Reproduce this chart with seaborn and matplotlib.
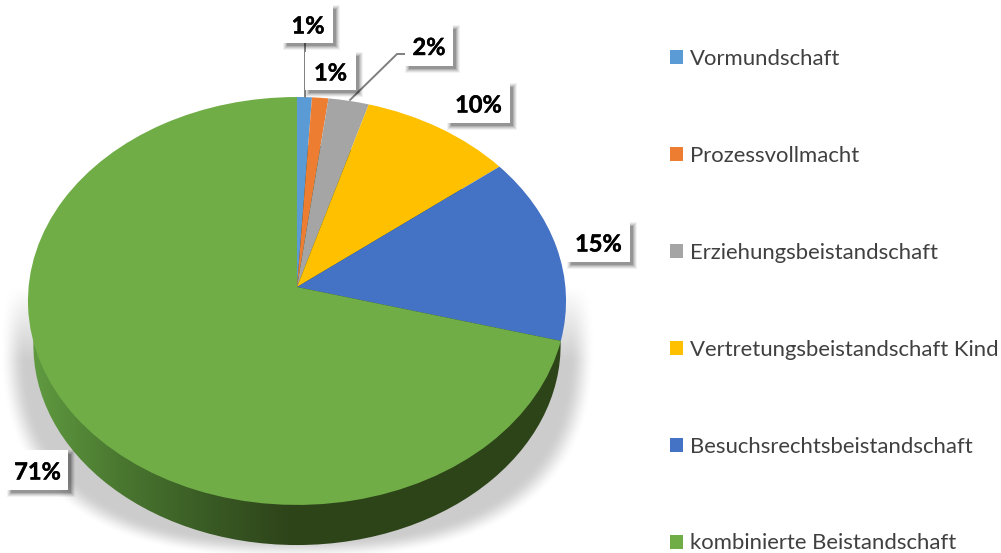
import numpy as np
import matplotlib
matplotlib.use('Agg')
import matplotlib.pyplot as plt
import matplotlib.patheffects as pe
from matplotlib.patches import Circle, Rectangle
from matplotlib.transforms import Transform
from matplotlib.colors import LinearSegmentedColormap
import seaborn as sns

categories = ['Vormundschaft', 'Prozessvollmacht', 'Erziehungsbeistandschaft',
              'Vertretungsbeistandschaft Kind', 'Besuchsrechtsbeistandschaft',
              'kombinierte Beistandschaft']
values = [0.95, 1.05, 2.6, 9.8, 14.8, 70.8]
value_labels = ['1%', '1%', '2%', '10%', '15%', '71%']
colors = ['#5B9BD5', '#ED7D31', '#A5A5A5', '#FFC000', '#4472C4', '#70AD47']

sns.set_theme(style='white')
plt.rcParams['font.family'] = ['Lato', 'DejaVu Sans']


# tilted disc: unit circle to pixels, the far side gets a bit smaller
class Tilt(Transform):
    input_dims = 2
    output_dims = 2
    is_separable = False
    has_inverse = False

    def __init__(self, cx, cy, a, b, k=0.0685):
        super().__init__()
        self.cx, self.cy, self.a, self.b, self.k = cx, cy, a, b, k

    def transform_non_affine(self, pts):
        pts = np.asarray(pts)
        w = 1 + self.k * pts[:, 1]
        return np.column_stack([self.cx + self.a * pts[:, 0] / w,
                                self.cy - self.b * pts[:, 1] / w])


fig = plt.figure(figsize=(10.01, 5.53), dpi=100)
ax = fig.add_axes([0, 0, 1, 1])

# soft shadow under the disc
yy, xx = np.mgrid[0:553, 0:1001]
d = ((np.abs((xx - 297) / 285) ** 2.6 + np.abs((yy - 337) / 212) ** 2.6) ** (1 / 2.6) - 1) * 240
soft = np.clip((11 - d) / 22, 0, 1)
soft = soft * soft * (3 - 2 * soft)
fade = np.clip((yy - 285) / 75, 0, 1)
shadow = np.zeros((553, 1001, 4))
shadow[..., 3] = 0.2 * soft * fade
ax.imshow(shadow, extent=(0, 1001, 553, 0), aspect='auto', zorder=1)

# side wall, drawn as a lower disc with a left to right gradient
wall_cmap = LinearSegmentedColormap.from_list(
    'wall', ['#5f9a40', '#4a7830', '#3a5c25', '#2e441a', '#2d4419'])
wall_trf = Tilt(297, 331.4, 263, 199) + ax.transData
wall_clip = Circle((0, 0), 1, transform=wall_trf, fc='none', ec='none')
ax.add_patch(wall_clip)
grad = ax.imshow(np.clip((np.arange(1001)[None, :] - 33) / 340, 0, 1),
                 extent=(0, 1001, 553, 0), aspect='auto', cmap=wall_cmap,
                 vmin=0, vmax=1, zorder=2)
grad.set_clip_path(wall_clip)

# top face
top_trf = Tilt(297, 287, 268.4, 203) + ax.transData
wedges, _ = ax.pie(values, colors=colors, startangle=90, counterclock=False,
                   wedgeprops={'transform': top_trf, 'linewidth': 0, 'zorder': 3})

ax.set_xlim(0, 1001)
ax.set_ylim(553, 0)
ax.set_aspect('auto')
ax.axis('off')

# leader lines
ax.plot([304.5, 304.5], [40, 97], color='#7f7f7f', lw=1.4, zorder=4)
ax.plot([408, 397, 350], [54, 54, 100], color='#7f7f7f', lw=1.4, zorder=4)

# value labels in white boxes with a soft shadow
label_boxes = [(283, 5, 333, 43), (305, 52, 356, 90), (405, 25, 453, 66),
               (447, 83, 510, 123), (567, 222, 630, 262), (7, 450, 68, 490)]
for lab, (x0, y0, x1, y1) in zip(value_labels, label_boxes):
    for grow, a in [(3.5, 0.05), (2.5, 0.07), (1.5, 0.09), (0.5, 0.12), (-0.5, 0.16)]:
        ax.add_patch(Rectangle((x0 + 3 - grow, y0 + 3 - grow), x1 - x0 + 2 * grow, y1 - y0 + 2 * grow,
                               fc='black', ec='none', alpha=a, zorder=5))
    ax.add_patch(Rectangle((x0, y0), x1 - x0, y1 - y0, fc='white', ec='none', zorder=5.5))
    t = ax.text((x0 + x1) / 2, (y0 + y1) / 2, lab, ha='center', va='center_baseline',
                fontsize=17, fontweight='bold', color='black', zorder=6)
    t.set_path_effects([pe.withStroke(linewidth=0.3, foreground='black')])

ax.legend(wedges, categories, loc='upper left', bbox_to_anchor=(0.669, 0.911),
          frameon=False, fontsize=15.9, labelcolor='#404040',
          handlelength=0.59, handleheight=0.59, handletextpad=0.32,
          labelspacing=3.48, borderpad=0, borderaxespad=0)

fig.savefig('out.png', dpi=100)
